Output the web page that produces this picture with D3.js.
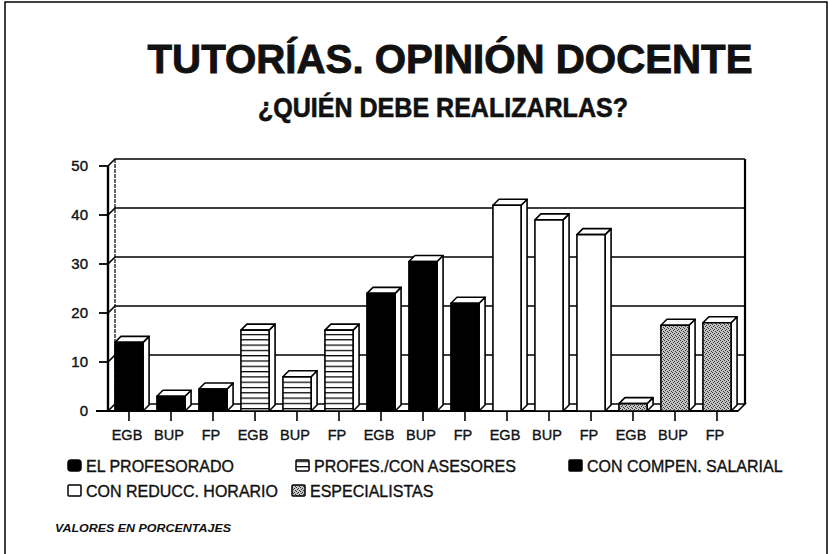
<!DOCTYPE html>
<html>
<head>
<meta charset="utf-8">
<script src="https://cdn.jsdelivr.net/npm/d3@7"></script>
<style>
  body { margin: 0; background: #fff; }
  text { font-family: "Liberation Sans", Arial, sans-serif; fill: #111; }
</style>
</head>
<body>
<script>
// datos (porcentajes)
const niveles = ["EGB", "BUP", "FP"];
const grupos = ["EL PROFESORADO", "PROFES./CON ASESORES", "CON COMPEN. SALARIAL", "CON REDUCC. HORARIO", "ESPECIALISTAS"];
const profesorado = [14, 3, 4.5];
const asesores = [16.5, 7, 16.5];
const compensacion = [24, 30.5, 22];
const reduccion = [42, 39, 36];
const especialistas = [1.5, 17.5, 18];
const yTicks = [0, 10, 20, 30, 40, 50];

const series = [profesorado, asesores, compensacion, reduccion, especialistas];
const fills = ["#000", "url(#rayas)", "#000", "#fff", "url(#punteado)"];

// una barra por grupo y nivel
let barras = [];
series.forEach(function (s, g) {
    s.forEach(function (v, n) {
        barras.push({ grupo: g, nivel: niveles[n], valor: v, i: barras.length });
    });
});

let w = 829;
let h = 554;
let depth = 7;     // profundidad de las paredes
let bDepth = 6;    // profundidad de las barras

let svg = d3.select("body")
    .append("svg")
    .attr("width", w)
    .attr("height", h);

let defs = svg.append("defs");
let rayas = defs.append("pattern")
    .attr("id", "rayas")
    .attr("patternUnits", "userSpaceOnUse")
    .attr("width", 8).attr("height", 5.3);
rayas.append("rect").attr("width", 8).attr("height", 5.3).attr("fill", "#fff");
rayas.append("line").attr("x1", 0).attr("x2", 8).attr("y1", 0.6).attr("y2", 0.6)
    .attr("stroke", "#000").attr("stroke-width", 1.3);

let punteado = defs.append("pattern")
    .attr("id", "punteado")
    .attr("patternUnits", "userSpaceOnUse")
    .attr("width", 4).attr("height", 4);
punteado.append("rect").attr("width", 4).attr("height", 4).attr("fill", "#c4c4c4");
[[0, 0], [2, 1], [1, 2], [3, 3]].forEach(function (p) {
    punteado.append("rect").attr("x", p[0]).attr("y", p[1]).attr("width", 1).attr("height", 1).attr("fill", "#333");
});

// marco
svg.append("rect")
    .attr("x", 5).attr("y", 2)
    .attr("width", 822).attr("height", 570)
    .attr("fill", "none").attr("stroke", "#000").attr("stroke-width", 1.5);

// titulos
svg.append("text")
    .attr("x", 450).attr("y", 73)
    .attr("text-anchor", "middle")
    .attr("font-size", 40).attr("font-weight", "bold")
    .attr("stroke", "#111").attr("stroke-width", 0.9)
    .attr("textLength", 605).attr("lengthAdjust", "spacingAndGlyphs")
    .text("TUTORÍAS. OPINIÓN DOCENTE");
svg.append("text")
    .attr("x", 443).attr("y", 117)
    .attr("text-anchor", "middle")
    .attr("font-size", 27).attr("font-weight", "bold")
    .attr("stroke", "#111").attr("stroke-width", 0.6)
    .attr("textLength", 370).attr("lengthAdjust", "spacingAndGlyphs")
    .text("¿QUIÉN DEBE REALIZARLAS?");

let x0 = 108, x1 = 738;
let xScale = d3.scaleBand()
    .domain(d3.range(barras.length))
    .range([x0, x1]);

let yScale = d3.scaleLinear()
    .domain([0, 50])
    .range([411, 166]);

let ink = "#000";

// paredes y rejilla
let pared = svg.append("g").attr("fill", "none").attr("stroke", ink);
pared.selectAll(".grid")
    .data(yTicks.filter(function (d) { return d > 0; }))
    .enter()
    .append("polyline")
    .attr("stroke-width", 1.6)
    .attr("points", function (d) {
        let y = yScale(d);
        return [[x0, y], [x0 + depth, y - depth], [x1 + depth, y - depth]].join(" ");
    });
// suelo
pared.append("polygon")
    .attr("stroke-width", 1.6)
    .attr("points", [[x0, yScale(0)], [x0 + depth, yScale(0) - depth], [x1 + depth, yScale(0) - depth], [x1, yScale(0)]].join(" "));
// pared izquierda y derecha
pared.append("line")
    .attr("x1", x0 + depth).attr("x2", x0 + depth)
    .attr("y1", yScale(50) - depth).attr("y2", yScale(0) - depth)
    .attr("stroke-width", 1.2).attr("stroke-dasharray", "4,1");
pared.append("line")
    .attr("x1", x1 + depth).attr("x2", x1 + depth)
    .attr("y1", yScale(50) - depth).attr("y2", yScale(0) - depth)
    .attr("stroke-width", 2.2);

// eje y
svg.append("line")
    .attr("x1", x0).attr("x2", x0)
    .attr("y1", yScale(50)).attr("y2", yScale(0))
    .attr("stroke", ink).attr("stroke-width", 2.4);
svg.selectAll(".ytick")
    .data(yTicks)
    .enter()
    .append("line")
    .attr("x1", x0 - 9).attr("x2", x0)
    .attr("y1", function (d) { return yScale(d); })
    .attr("y2", function (d) { return yScale(d); })
    .attr("stroke", ink).attr("stroke-width", 1.8);
svg.selectAll(".ylab")
    .data(yTicks)
    .enter()
    .append("text")
    .attr("x", 88)
    .attr("y", function (d) { return yScale(d); })
    .attr("dy", "0.36em")
    .attr("text-anchor", "end")
    .attr("font-size", 15)
    .attr("stroke", "#111").attr("stroke-width", 0.4)
    .text(function (d) { return d; });

// eje x
svg.append("line")
    .attr("x1", x0 - 12).attr("x2", x1)
    .attr("y1", yScale(0)).attr("y2", yScale(0))
    .attr("stroke", ink).attr("stroke-width", 2);

// barras 3d
let bw = xScale.bandwidth() * 0.67;
let g = svg.selectAll(".barra")
    .data(barras)
    .enter()
    .append("g")
    .attr("stroke", ink)
    .attr("stroke-width", 1.6)
    .attr("stroke-linejoin", "round");

function bx(d) { return xScale(d.i) + (xScale.bandwidth() - bw) / 2; }

// cara lateral
g.append("polygon")
    .attr("fill", "#fff")
    .attr("points", function (d) {
        let x = bx(d) + bw, yt = yScale(d.valor), yb = yScale(0);
        return [[x, yt], [x + bDepth, yt - bDepth], [x + bDepth, yb - bDepth], [x, yb]].join(" ");
    });
// cara superior
g.append("polygon")
    .attr("fill", "#fff")
    .attr("points", function (d) {
        let x = bx(d), yt = yScale(d.valor);
        return [[x, yt], [x + bDepth, yt - bDepth], [x + bw + bDepth, yt - bDepth], [x + bw, yt]].join(" ");
    });
// cara frontal
g.append("rect")
    .attr("x", bx)
    .attr("y", function (d) { return yScale(d.valor); })
    .attr("width", bw)
    .attr("height", function (d) { return yScale(0) - yScale(d.valor); })
    .attr("fill", function (d) { return fills[d.grupo]; });

// marcas y etiquetas x
svg.selectAll(".xtick")
    .data(barras)
    .enter()
    .append("line")
    .attr("x1", function (d) { return xScale(d.i) + xScale.bandwidth() / 2; })
    .attr("x2", function (d) { return xScale(d.i) + xScale.bandwidth() / 2; })
    .attr("y1", yScale(0)).attr("y2", yScale(0) + 10)
    .attr("stroke", ink).attr("stroke-width", 1.6);
svg.selectAll(".xlab")
    .data(barras)
    .enter()
    .append("text")
    .attr("x", function (d) { return xScale(d.i) + xScale.bandwidth() / 2 - 2; })
    .attr("y", 440)
    .attr("text-anchor", "middle")
    .attr("font-size", 14.5)
    .attr("stroke", "#111").attr("stroke-width", 0.35)
    .text(function (d) { return d.nivel; });

// leyenda
let posLeyenda = [[68, 466], [296, 466], [569, 466], [68, 491], [292, 491]];
let ley = svg.selectAll(".ley")
    .data(grupos)
    .enter()
    .append("g")
    .attr("transform", function (d, i) { return "translate(" + posLeyenda[i][0] + "," + posLeyenda[i][1] + ")"; });
ley.append("rect")
    .attr("x", 0).attr("y", -6)
    .attr("width", 13).attr("height", 11)
    .attr("rx", function (d, i) { return i === 0 ? 3 : 1; })
    .attr("fill", function (d, i) { return fills[i]; })
    .attr("stroke", ink).attr("stroke-width", 1.5);
ley.append("text")
    .attr("x", 18).attr("y", 0)
    .attr("dy", "0.36em")
    .attr("font-size", 16)
    .attr("stroke", "#111").attr("stroke-width", 0.35)
    .text(function (d) { return d; });

// nota
svg.append("text")
    .attr("x", 55).attr("y", 532)
    .attr("font-size", 11)
    .attr("font-weight", "bold")
    .attr("font-style", "italic")
    .attr("textLength", 176).attr("lengthAdjust", "spacingAndGlyphs")
    .text("VALORES EN PORCENTAJES");
</script>
</body>
</html>
